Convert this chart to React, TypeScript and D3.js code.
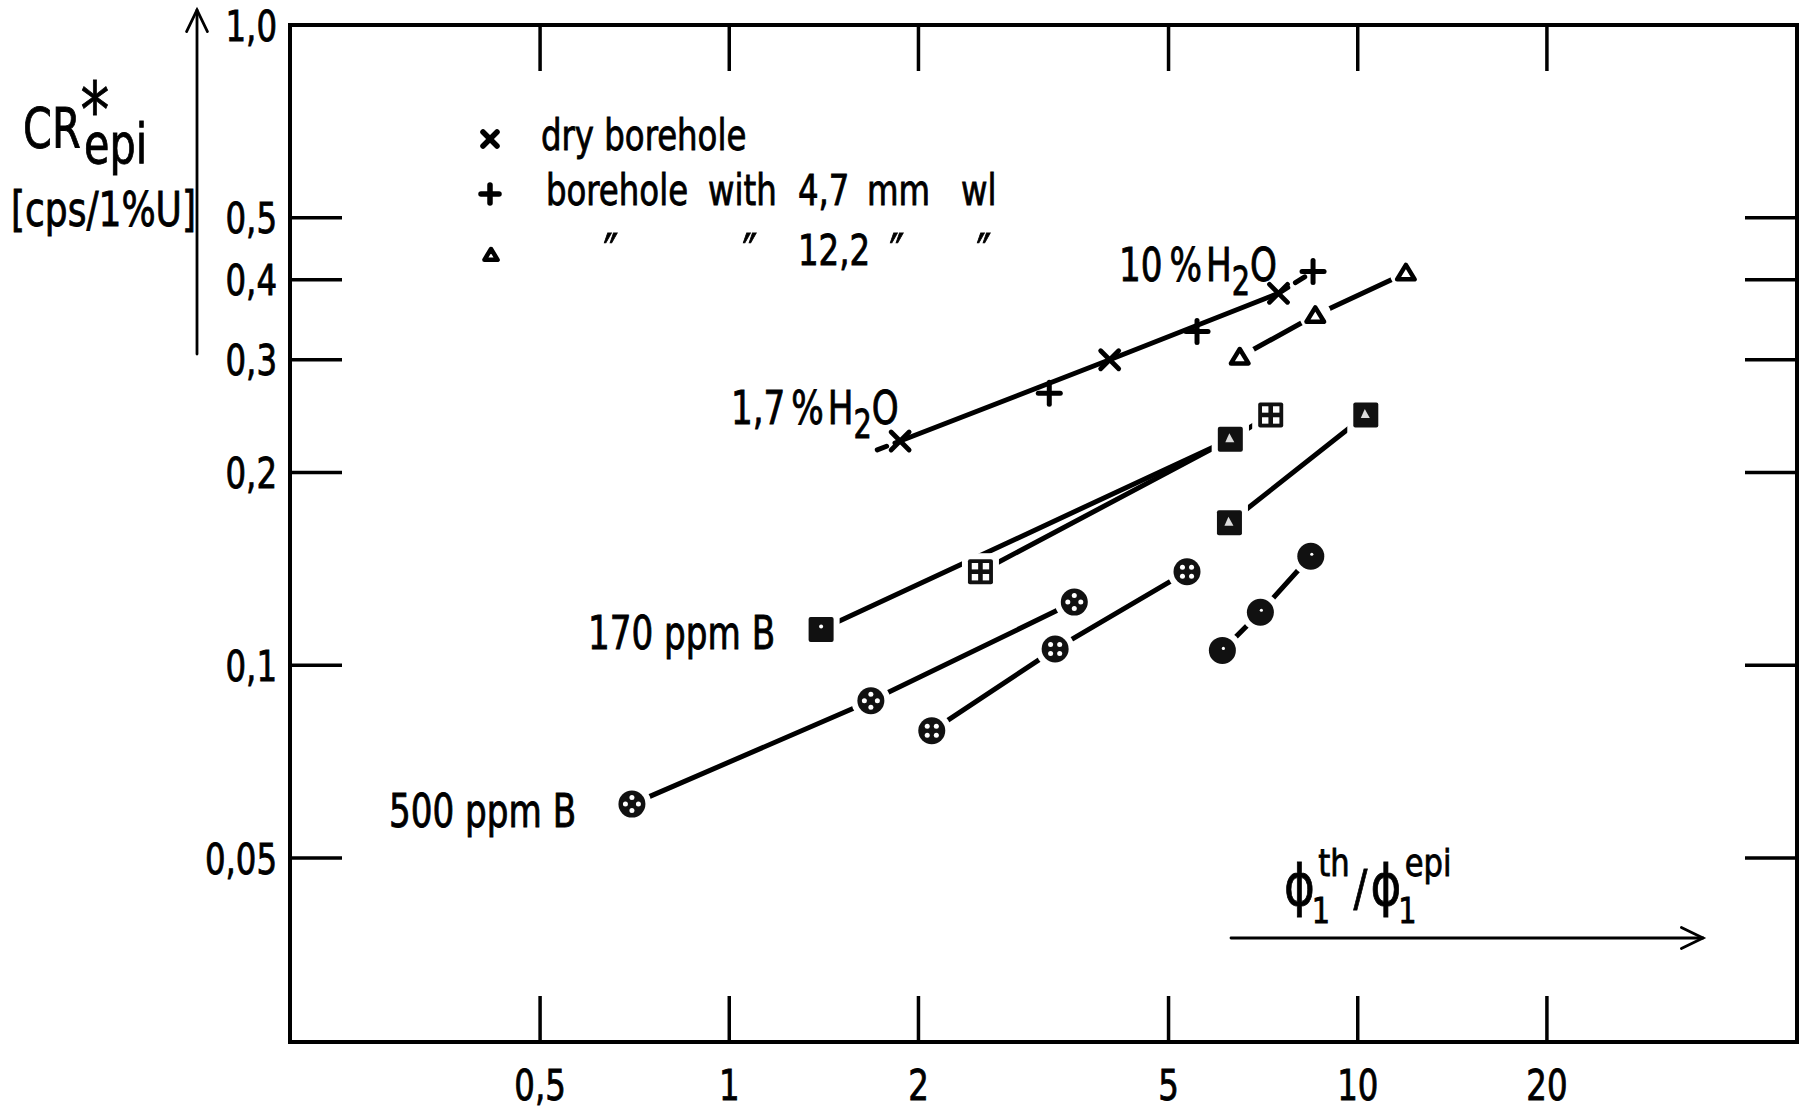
import React from 'react';
import * as d3 from 'd3';

// ---------- data ----------
const xTicks = [0.5, 1, 2, 5, 10, 20];
const xTickLabels = ['0,5', '1', '2', '5', '10', '20'];
const yTicks = [1, 0.5, 0.4, 0.3, 0.2, 0.1, 0.05];
const yTickLabels = ['1,0', '0,5', '0,4', '0,3', '0,2', '0,1', '0,05'];

// water content in borehole (1,7 % -> 10 % H2O)
const dryX = [1.87, 4.03, 7.48];
const dryY = [0.224, 0.3, 0.381];
const wl47X = [3.23, 5.55, 8.49];
const wl47Y = [0.266, 0.332, 0.412];
const wl122X = [6.49, 8.56, 11.93];
const wl122Y = [0.303, 0.352, 0.41];
const h2oStubX = [1.72, 1.87];
const h2oStubY = [0.217, 0.224];
const h2oExtX = [7.48, 8.49];
const h2oExtY = [0.381, 0.412];

// 170 ppm B (squares)
const b170aX = [1.4, 6.27];
const b170aY = [0.1137, 0.2255];
const b170aKind = ['filled', 'dark'];
const b170bX = [2.51, 6.27, 7.27];
const b170bY = [0.14, 0.2255, 0.246];
const b170bKind = ['grid', 'dark', 'grid'];
const b170cX = [6.25, 10.3];
const b170cY = [0.167, 0.246];
const b170cKind = ['dark', 'dark'];

// 500 ppm B (circles)
const b500aX = [0.7, 1.68, 3.54];
const b500aY = [0.0607, 0.088, 0.1255];
const b500bX = [2.1, 3.3, 5.35];
const b500bY = [0.079, 0.106, 0.14];
const b500cX = [6.09, 7.0, 8.42];
const b500cY = [0.1055, 0.121, 0.148];

// ---------- layout ----------
const W = 1800;
const H = 1111;
const L = 290, R = 1797, T = 25, B = 1042;
const FONT = "'DejaVu Sans Condensed', 'DejaVu Sans', sans-serif";
const SY = 1.2; // lettering is taller than the condensed font

const x = d3.scaleLog().domain([0.2, 50]).range([L, R]);
const y = d3.scaleLog().domain([0.0258, 1]).range([B, T]);

const zip = (xs: number[], ys: number[]) => xs.map((v, i) => [v, ys[i]] as [number, number]);
const line = d3
  .line<[number, number]>()
  .x((d) => x(d[0]))
  .y((d) => y(d[1]));

const LW = 5;

function Txt({ x: tx, y: ty, sy = SY, children, ...rest }: any) {
  return (
    <text transform={`translate(${tx},${ty}) scale(1,${sy})`} stroke="#000" strokeWidth={0.7} fill="#000" {...rest}>
      {children}
    </text>
  );
}

function Cross({ cx, cy, s = 9, w = 4.5 }: any) {
  return (
    <g stroke="#000" strokeWidth={w} strokeLinecap="round">
      <line x1={cx - s} y1={cy - s} x2={cx + s} y2={cy + s} />
      <line x1={cx - s} y1={cy + s} x2={cx + s} y2={cy - s} />
    </g>
  );
}
function Plus({ cx, cy, s = 11, w = 4.5 }: any) {
  return (
    <g stroke="#000" strokeWidth={w} strokeLinecap="round">
      <line x1={cx - s} y1={cy} x2={cx + s} y2={cy} />
      <line x1={cx} y1={cy - s} x2={cx} y2={cy + s} />
    </g>
  );
}
function Tri({ cx, cy, s = 8, w = 4.5, halo = true }: any) {
  const pts = `${cx},${cy - s} ${cx + s * 1.1},${cy + s * 0.8} ${cx - s * 1.1},${cy + s * 0.8}`;
  return (
    <g>
      {halo && <circle cx={cx} cy={cy} r={s + 8} fill="#fff" />}
      <polygon points={pts} fill="#fff" stroke="#000" strokeWidth={w} strokeLinejoin="round" />
    </g>
  );
}
function Circ({ cx, cy, kind }: any) {
  const r = 13.5;
  const d = 6.5;
  let dots: [number, number][] = [];
  if (kind === 'otimes') dots = [[0, -d], [d, 0], [0, d], [-d, 0]];
  else if (kind === 'oplus') dots = [[-d * 0.7, -d * 0.7], [d * 0.7, -d * 0.7], [d * 0.7, d * 0.7], [-d * 0.7, d * 0.7]];
  else dots = [[1, -2]];
  return (
    <g>
      <circle cx={cx} cy={cy} r={r + 6} fill="#fff" />
      <circle cx={cx} cy={cy} r={r} fill="#111" />
      {dots.map((p, i) => (
        <circle key={i} cx={cx + p[0]} cy={cy + p[1]} r={kind === 'filled' ? 1.6 : 2.5} fill="#fff" />
      ))}
    </g>
  );
}
function Sq({ cx, cy, kind }: any) {
  const h = 12.5;
  return (
    <g>
      <rect x={cx - h - 6} y={cy - h - 6} width={2 * h + 12} height={2 * h + 12} fill="#fff" />
      <rect x={cx - h} y={cy - h} width={2 * h} height={2 * h} rx={2} fill="#111" />
      {kind === 'grid' &&
        [[-1, -1], [1, -1], [1, 1], [-1, 1]].map((p, i) => (
          <rect key={i} x={cx + p[0] * 5.5 - 3.2} y={cy + p[1] * 5.5 - 3.2} width={6.4} height={6.4} fill="#fff" />
        ))}
      {kind === 'dark' && (
        <polygon points={`${cx - 1},${cy - 6} ${cx + 4},${cy + 3} ${cx - 5},${cy + 3}`} fill="#fff" opacity={0.85} />
      )}
      {kind === 'filled' && <circle cx={cx} cy={cy - 3} r={2} fill="#fff" />}
    </g>
  );
}

function Arrow({ x1, y1, x2, y2 }: any) {
  const a = Math.atan2(y2 - y1, x2 - x1);
  const hl = 24, ha = 0.45;
  const p1 = [x2 - hl * Math.cos(a - ha), y2 - hl * Math.sin(a - ha)];
  const p2 = [x2 - hl * Math.cos(a + ha), y2 - hl * Math.sin(a + ha)];
  return (
    <g stroke="#000" strokeWidth={2.8} fill="none" strokeLinecap="round">
      <line x1={x1} y1={y1} x2={x2} y2={y2} />
      <polyline points={`${p1[0]},${p1[1]} ${x2},${y2} ${p2[0]},${p2[1]}`} />
    </g>
  );
}

export default function App() {
  const pathProps = { fill: 'none', stroke: '#000', strokeWidth: LW, strokeLinecap: 'round' as const };
  return (
    <svg width={W} height={H} viewBox={`0 0 ${W} ${H}`} style={{ display: 'block', position: 'absolute', left: 0, top: 0, background: '#fff' }} fontFamily={FONT}>
      <rect x={0} y={0} width={W} height={H} fill="#fff" />

      {/* frame */}
      <rect x={L} y={T} width={R - L} height={B - T} fill="none" stroke="#000" strokeWidth={4} />
      {/* ticks */}
      <g stroke="#000" strokeWidth={3.5}>
        {xTicks.map((v) => (
          <g key={'xt' + v}>
            <line x1={x(v)} y1={B} x2={x(v)} y2={B - 46} />
            <line x1={x(v)} y1={T} x2={x(v)} y2={T + 46} />
          </g>
        ))}
        {yTicks.slice(1).map((v) => (
          <g key={'yt' + v}>
            <line x1={L} y1={y(v)} x2={L + 52} y2={y(v)} />
            <line x1={R} y1={y(v)} x2={R - 52} y2={y(v)} />
          </g>
        ))}
      </g>
      {/* tick labels */}
      <g fontSize={36}>
        {xTicks.map((v, i) => (
          <Txt key={'xl' + v} x={x(v)} y={1100} textAnchor="middle">
            {xTickLabels[i]}
          </Txt>
        ))}
        {yTicks.map((v, i) => (
          <Txt key={'yl' + v} x={277} y={y(v)} dy="0.36em" textAnchor="end">
            {yTickLabels[i]}
          </Txt>
        ))}
      </g>

      {/* axis titles */}
      <Txt x={23} y={147} fontSize={46}>CR</Txt>
      <Txt x={95} y={137} fontSize={64} textAnchor="middle">*</Txt>
      <Txt x={84} y={163} fontSize={46}>epi</Txt>
      <Txt x={11} y={226} fontSize={40}>[cps/1%U]</Txt>
      <Arrow x1={197} y1={354} x2={197} y2={10} />

      <Txt x={1284} y={905} fontSize={52} sy={1.1}>
        ϕ<tspan fontSize={32} dx={-3} dy={16}>1</tspan>
        <tspan fontSize={34} dx={-12} dy={-42}>th</tspan>
        <tspan fontSize={46} dx={4} dy={26}>/</tspan>
        <tspan fontSize={52} dx={3}>ϕ</tspan>
        <tspan fontSize={32} dx={-3} dy={16}>1</tspan>
        <tspan fontSize={34} dx={-12} dy={-42}>epi</tspan>
      </Txt>
      <Arrow x1={1231} y1={938} x2={1703} y2={938} />

      {/* legend */}
      <Cross cx={490} cy={139} s={7} w={5.5} />
      <Plus cx={490} cy={194} s={9} w={5.5} />
      <Tri cx={491} cy={255} s={6} w={4.5} halo={false} />
      <g fontSize={36}>
        <Txt x={541} y={150}>dry borehole</Txt>
        <Txt x={546} y={205}>borehole</Txt>
        <Txt x={708} y={205}>with</Txt>
        <Txt x={798} y={205}>4,7</Txt>
        <Txt x={867} y={205}>mm</Txt>
        <Txt x={961} y={205}>wl</Txt>
        <Txt x={611} y={272} fontSize={44} textAnchor="middle">″</Txt>
        <Txt x={750} y={272} fontSize={44} textAnchor="middle">″</Txt>
        <Txt x={798} y={265}>12,2</Txt>
        <Txt x={897} y={272} fontSize={44} textAnchor="middle">″</Txt>
        <Txt x={984} y={272} fontSize={44} textAnchor="middle">″</Txt>
      </g>

      {/* annotations */}
      <g fontSize={38}>
        <Txt x={1119} y={281}>
          10<tspan dx={7}>%</tspan>
          <tspan dx={4}>H</tspan>
          <tspan fontSize={32} dx={0} dy={12}>2</tspan>
          <tspan dx={0} dy={-12}>O</tspan>
        </Txt>
        <Txt x={731} y={424}>
          1,7<tspan dx={6}>%</tspan>
          <tspan dx={4}>H</tspan>
          <tspan fontSize={32} dx={0} dy={12}>2</tspan>
          <tspan dx={0} dy={-12}>O</tspan>
        </Txt>
        <Txt x={588} y={649}>170 ppm B</Txt>
        <Txt x={389} y={827}>500 ppm B</Txt>
      </g>

      {/* lines */}
      <path d={line(zip(dryX, dryY)) || ''} {...pathProps} />
      <path d={line(zip(h2oStubX, h2oStubY)) || ''} {...pathProps} strokeDasharray="10 9" />
      <path d={line(zip(h2oExtX, h2oExtY)) || ''} {...pathProps} strokeDasharray="11 9" />
      <path d={line(zip(wl122X, wl122Y)) || ''} {...pathProps} />
      <path d={line(zip(b170aX, b170aY)) || ''} {...pathProps} />
      <path d={line(zip(b170bX, b170bY)) || ''} {...pathProps} />
      <path d={line(zip(b170cX, b170cY)) || ''} {...pathProps} />
      <path d={line(zip(b500aX, b500aY)) || ''} {...pathProps} />
      <path d={line(zip(b500bX, b500bY)) || ''} {...pathProps} />
      <path d={line(zip(b500cX, b500cY)) || ''} {...pathProps} />

      {/* markers */}
      {zip(dryX, dryY).map((d, i) => (
        <Cross key={'dx' + i} cx={x(d[0])} cy={y(d[1])} s={9} w={4.8} />
      ))}
      {zip(wl47X, wl47Y).map((d, i) => (
        <Plus key={'wp' + i} cx={x(d[0])} cy={y(d[1])} s={11} w={5} />
      ))}
      {zip(wl122X, wl122Y).map((d, i) => (
        <Tri key={'wt' + i} cx={x(d[0])} cy={y(d[1])} />
      ))}
      {zip(b170aX, b170aY).map((d, i) => (
        <Sq key={'sa' + i} cx={x(d[0])} cy={y(d[1])} kind={b170aKind[i]} />
      ))}
      {zip(b170bX, b170bY).map((d, i) => (
        <Sq key={'sb' + i} cx={x(d[0])} cy={y(d[1])} kind={b170bKind[i]} />
      ))}
      {zip(b170cX, b170cY).map((d, i) => (
        <Sq key={'sc' + i} cx={x(d[0])} cy={y(d[1])} kind={b170cKind[i]} />
      ))}
      {zip(b500aX, b500aY).map((d, i) => (
        <Circ key={'ca' + i} cx={x(d[0])} cy={y(d[1])} kind="otimes" />
      ))}
      {zip(b500bX, b500bY).map((d, i) => (
        <Circ key={'cb' + i} cx={x(d[0])} cy={y(d[1])} kind="oplus" />
      ))}
      {zip(b500cX, b500cY).map((d, i) => (
        <Circ key={'cc' + i} cx={x(d[0])} cy={y(d[1])} kind="filled" />
      ))}
    </svg>
  );
}
